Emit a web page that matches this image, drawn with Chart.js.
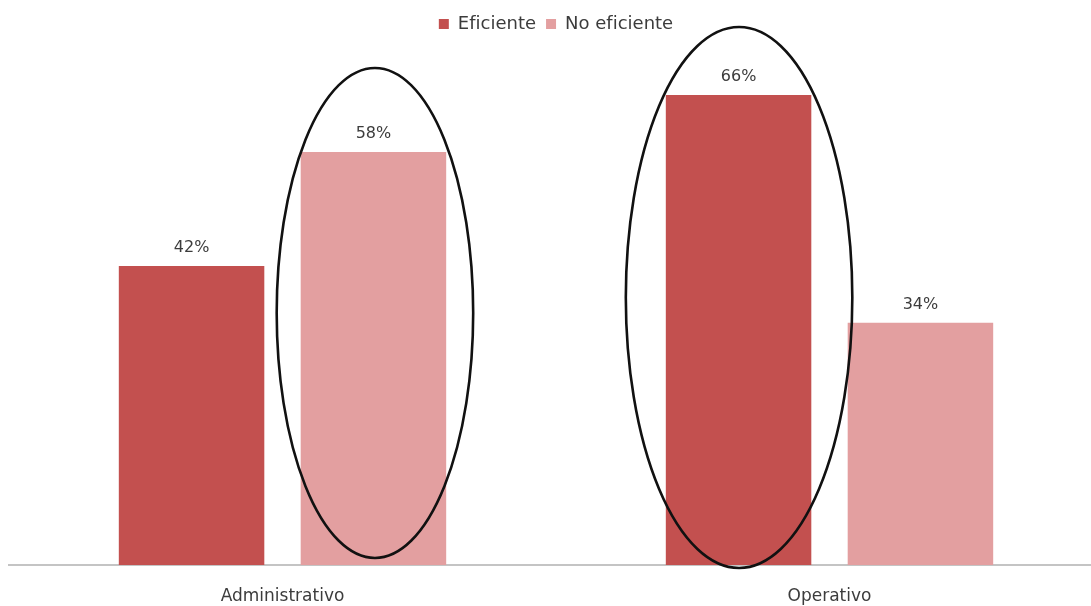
<!DOCTYPE html>
<html lang="es">
<head>
<meta charset="utf-8">
<title>Eficiente / No eficiente</title>
<script src="https://cdn.jsdelivr.net/npm/chart.js@4/dist/chart.umd.min.js"></script>
<style>
  html, body { margin: 0; padding: 0; background: #ffffff; overflow: hidden; }
  #wrap { position: absolute; left: 0; top: 0; width: 1110px; height: 606px; }
</style>
</head>
<body>
<div id="wrap"><canvas id="chart" width="1110" height="606"></canvas></div>
<script>
// Categories and series values (percent)
const categories = ['Administrativo', 'Operativo'];
const eficiente = [42, 66];
const noEficiente = [58, 34];
const seriesNames = ['Eficiente', 'No eficiente'];

const COLOR_DARK = '#C3504F';
const COLOR_LIGHT = '#E39FA0';
const TEXT = '#3c3c3c';
const FONT = '"DejaVu Sans", sans-serif';

// Highlight rings drawn around selected bars (dataset, index, extra size in px)
const rings = [
  { dataset: 1, index: 0, dx: 1.5, padX: 25.5, padTop: 84, padBottom: -7 },
  { dataset: 0, index: 1, dx: 0.5, padX: 40.5, padTop: 68, padBottom: 3 }
];

const valueLabels = {
  id: 'valueLabels',
  afterDatasetsDraw(chart) {
    const ctx = chart.ctx;
    ctx.save();
    ctx.font = '16px ' + FONT;
    ctx.fillStyle = TEXT;
    ctx.textAlign = 'center';
    ctx.textBaseline = 'bottom';
    chart.data.datasets.forEach((ds, di) => {
      chart.getDatasetMeta(di).data.forEach((bar, i) => {
        ctx.fillText(ds.data[i] + '%', bar.x, bar.y - 10);
      });
    });
    ctx.restore();
  }
};

const highlightRings = {
  id: 'highlightRings',
  afterDatasetsDraw(chart) {
    const ctx = chart.ctx;
    ctx.save();
    ctx.strokeStyle = '#111111';
    ctx.lineWidth = 2.6;
    rings.forEach(r => {
      const bar = chart.getDatasetMeta(r.dataset).data[r.index];
      const half = bar.width / 2;
      const top = bar.y - r.padTop;
      const bottom = bar.base + r.padBottom;
      const cx = bar.x + r.dx;
      const cy = (top + bottom) / 2;
      ctx.beginPath();
      ctx.ellipse(cx, cy, half + r.padX, (bottom - top) / 2, 0, 0, Math.PI * 2);
      ctx.stroke();
    });
    ctx.restore();
  }
};

new Chart(document.getElementById('chart'), {
  type: 'bar',
  data: {
    labels: categories,
    datasets: [
      { label: seriesNames[0], data: eficiente, backgroundColor: COLOR_DARK },
      { label: seriesNames[1], data: noEficiente, backgroundColor: COLOR_LIGHT }
    ]
  },
  options: {
    responsive: false,
    animation: false,
    devicePixelRatio: 1,
    categoryPercentage: 0.665,
    barPercentage: 0.8,
    layout: { padding: { left: 9, right: 7, top: 5, bottom: 0 } },
    plugins: {
      legend: {
        position: 'top',
        labels: {
          boxWidth: 10,
          boxHeight: 10,
          padding: 10,
          color: TEXT,
          font: { family: FONT, size: 18 }
        }
      },
      tooltip: { enabled: false }
    },
    scales: {
      x: {
        grid: { display: false },
        border: { display: true, color: '#c4c4c4', width: 2 },
        ticks: { color: TEXT, font: { family: FONT, size: 17 }, padding: 13 },
        afterFit(scale) { scale.height = 41; }
      },
      y: {
        display: false,
        min: 0,
        max: 73.3
      }
    }
  },
  plugins: [valueLabels, highlightRings]
});
</script>
</body>
</html>
